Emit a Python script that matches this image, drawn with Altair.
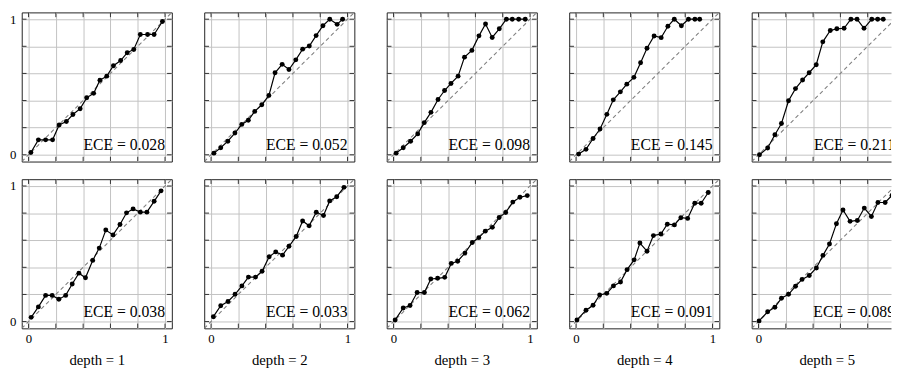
import altair as alt
import pandas as pd

FONT = "'Liberation Serif', 'DejaVu Serif', serif"
GRID = "#c2c2c2"

depths = [1, 2, 3, 4, 5]
tick_vals = [0, 0.2, 0.4, 0.6, 0.8, 1]
ece_top = ["0.028", "0.052", "0.098", "0.145", "0.211"]
ece_bottom = ["0.038", "0.033", "0.062", "0.091", "0.089"]

# top row (mean confidence, accuracy)
x_t1 = [0.017, 0.072, 0.125, 0.176, 0.224, 0.277, 0.325, 0.378, 0.426, 0.477, 0.523, 0.573, 0.622, 0.675, 0.723, 0.771, 0.819, 0.872, 0.920, 0.981]
y_t1 = [0.017, 0.110, 0.110, 0.110, 0.220, 0.245, 0.297, 0.340, 0.420, 0.453, 0.550, 0.580, 0.657, 0.695, 0.753, 0.777, 0.887, 0.887, 0.887, 0.983]
x_t2 = [0.021, 0.071, 0.123, 0.175, 0.225, 0.273, 0.320, 0.372, 0.424, 0.469, 0.521, 0.571, 0.621, 0.671, 0.720, 0.770, 0.820, 0.870, 0.924, 0.964]
y_t2 = [0.012, 0.052, 0.100, 0.160, 0.224, 0.255, 0.320, 0.369, 0.438, 0.605, 0.667, 0.629, 0.700, 0.779, 0.802, 0.879, 0.952, 1.000, 0.962, 1.000]
x_t3 = [0.019, 0.071, 0.125, 0.177, 0.225, 0.274, 0.326, 0.374, 0.421, 0.473, 0.520, 0.574, 0.626, 0.674, 0.723, 0.775, 0.827, 0.870, 0.917, 0.965]
y_t3 = [0.012, 0.052, 0.100, 0.154, 0.237, 0.313, 0.408, 0.474, 0.526, 0.580, 0.720, 0.770, 0.877, 0.964, 0.865, 0.929, 1.000, 1.000, 1.000, 1.000]
x_t4 = [0.019, 0.073, 0.125, 0.176, 0.226, 0.273, 0.325, 0.372, 0.424, 0.473, 0.520, 0.572, 0.624, 0.673, 0.720, 0.772, 0.824, 0.871, 0.906]
y_t4 = [0.005, 0.040, 0.120, 0.190, 0.298, 0.405, 0.464, 0.521, 0.571, 0.679, 0.786, 0.876, 0.864, 0.948, 1.000, 0.952, 1.000, 1.000, 1.000]
x_t5 = [0.007, 0.067, 0.120, 0.168, 0.220, 0.271, 0.323, 0.371, 0.423, 0.471, 0.526, 0.574, 0.627, 0.677, 0.722, 0.773, 0.830, 0.873, 0.914]
y_t5 = [0.000, 0.050, 0.148, 0.231, 0.398, 0.488, 0.552, 0.605, 0.664, 0.833, 0.917, 0.929, 0.933, 1.000, 1.000, 0.933, 1.000, 1.000, 1.000]

# bottom row
x_b1 = [0.019, 0.072, 0.125, 0.173, 0.222, 0.272, 0.320, 0.369, 0.417, 0.470, 0.518, 0.566, 0.619, 0.670, 0.718, 0.766, 0.819, 0.867, 0.920, 0.971]
y_b1 = [0.031, 0.108, 0.193, 0.193, 0.164, 0.193, 0.277, 0.357, 0.323, 0.451, 0.542, 0.675, 0.639, 0.716, 0.802, 0.831, 0.807, 0.807, 0.887, 0.964]
x_b2 = [0.017, 0.071, 0.124, 0.176, 0.226, 0.274, 0.326, 0.374, 0.426, 0.474, 0.524, 0.571, 0.624, 0.671, 0.719, 0.771, 0.824, 0.869, 0.921, 0.974]
y_b2 = [0.036, 0.117, 0.148, 0.201, 0.263, 0.328, 0.328, 0.371, 0.478, 0.514, 0.490, 0.555, 0.627, 0.742, 0.706, 0.806, 0.782, 0.890, 0.921, 0.990]
x_b3 = [0.012, 0.071, 0.121, 0.173, 0.226, 0.273, 0.323, 0.375, 0.423, 0.470, 0.523, 0.577, 0.625, 0.672, 0.724, 0.774, 0.822, 0.874, 0.926, 0.980]
y_b3 = [0.012, 0.100, 0.119, 0.214, 0.214, 0.314, 0.319, 0.326, 0.429, 0.445, 0.505, 0.583, 0.619, 0.667, 0.695, 0.767, 0.805, 0.881, 0.917, 0.929]
x_b4 = [0.007, 0.073, 0.125, 0.173, 0.225, 0.274, 0.326, 0.374, 0.426, 0.468, 0.520, 0.567, 0.622, 0.669, 0.721, 0.768, 0.818, 0.870, 0.917, 0.969]
y_b4 = [0.012, 0.083, 0.120, 0.196, 0.208, 0.263, 0.292, 0.383, 0.455, 0.579, 0.519, 0.634, 0.646, 0.718, 0.713, 0.766, 0.761, 0.873, 0.873, 0.952]
x_b5 = [0.004, 0.067, 0.120, 0.168, 0.220, 0.271, 0.319, 0.372, 0.424, 0.472, 0.520, 0.571, 0.619, 0.671, 0.724, 0.775, 0.827, 0.875, 0.928, 0.978]
y_b5 = [0.005, 0.072, 0.105, 0.172, 0.201, 0.260, 0.311, 0.340, 0.395, 0.488, 0.572, 0.722, 0.823, 0.739, 0.746, 0.837, 0.775, 0.878, 0.878, 0.930]

LO, HI = -0.05, 1.05
TL = 0.035          # inward tick length (data units)
PW, PH = 153, 152   # panel size
W_LAST = 142        # last column is cut off by the page edge, as in the reference

top_xy = [(x_t1, y_t1), (x_t2, y_t2), (x_t3, y_t3), (x_t4, y_t4), (x_t5, y_t5)]
bot_xy = [(x_b1, y_b1), (x_b2, y_b2), (x_b3, y_b3), (x_b4, y_b4), (x_b5, y_b5)]

diag_df = pd.DataFrame({"x": [LO, HI], "y": [LO, HI]})
trecs = []
for t in tick_vals:
    trecs += [dict(x=t, y=LO, x2=t, y2=LO + TL), dict(x=t, y=HI, x2=t, y2=HI - TL),
              dict(x=LO, y=t, x2=LO + TL, y2=t), dict(x=HI, y=t, x2=HI - TL, y2=t)]
tick_df = pd.DataFrame(trecs)

label_expr = "datum.value == 0 ? '0' : (datum.value == 1 ? '1' : '')"


def panel(row, col):
    xs_, ys_ = (top_xy if row == 0 else bot_xy)[col]
    ece = (ece_top if row == 0 else ece_bottom)[col]
    last = col == len(depths) - 1
    width = W_LAST if last else PW
    xmax = LO + width * (HI - LO) / PW
    xscale = alt.Scale(domain=[LO, xmax], nice=False, zero=False)
    yscale = alt.Scale(domain=[LO, HI], nice=False, zero=False)
    xaxis_kw = dict(
        values=[v for v in tick_vals if v <= xmax], grid=True, ticks=False, domain=False,
        labels=(row == 1), labelExpr=label_expr, labelPadding=4, labelFont=FONT,
        labelFontSize=13, labelColor="black", gridColor=GRID, gridWidth=1,
    )
    if row == 1:
        xaxis_kw.update(title="depth = %d" % depths[col], titleFont=FONT, titleFontSize=15,
                        titleFontWeight="normal", titleColor="black", titlePadding=8)
        if last:
            xaxis_kw.update(titleX=PW / 2, titleAlign="center", titleAnchor="start")
    else:
        xaxis_kw.update(title=None)
    xaxis = alt.Axis(**xaxis_kw)
    yaxis = alt.Axis(values=tick_vals, grid=True, ticks=False, domain=False, title=None,
                     labels=(col == 0), labelExpr=label_expr, labelPadding=6, labelFont=FONT,
                     labelFontSize=13, labelColor="black", gridColor=GRID, gridWidth=1)
    X = alt.X("x:Q", scale=xscale, axis=xaxis)
    Y = alt.Y("y:Q", scale=yscale, axis=yaxis)

    pts_df = pd.DataFrame({"x": xs_, "y": ys_})
    diag = alt.Chart(diag_df).mark_line(color="#808080", strokeDash=[4, 3], strokeWidth=1.1,
                                        clip=True).encode(x=X, y=Y)
    line = alt.Chart(pts_df).mark_line(color="black", strokeWidth=1.2, clip=True).encode(x=X, y=Y)
    pts = alt.Chart(pts_df).mark_circle(color="black", size=25, opacity=1, clip=True).encode(x=X, y=Y)
    ticks = alt.Chart(tick_df).mark_rule(color="#333", strokeWidth=1, clip=True).encode(
        x=X, y=Y, x2="x2:Q", y2="y2:Q")
    text = alt.Chart(pd.DataFrame({"label": ["ECE = " + ece]})).mark_text(
        align="right", baseline="alphabetic", font=FONT, fontSize=16, color="black", clip=True
    ).encode(x=alt.XDatum(1.0, scale=xscale, axis=xaxis),
             y=alt.YDatum(0.035, scale=yscale, axis=yaxis), text="label:N")
    ch = alt.layer(diag, line, pts, ticks, text).properties(width=width, height=PH)
    if last:
        # frame drawn on top, left and bottom only: the right edge lies beyond the page
        ch = ch.properties(view=alt.ViewBackground(
            strokeDash=[W_LAST, PH, W_LAST + PH + 10]))
    return ch


rows = [alt.hconcat(*[panel(r, c) for c in range(len(depths))], spacing=31) for r in (0, 1)]

chart = alt.vconcat(*rows, spacing=16).properties(
    padding={"left": 1, "top": 0, "right": 0, "bottom": 0}
).configure_view(
    stroke="#222", strokeWidth=1
)

chart.save("out.html", embed_options={"renderer": "svg", "actions": False})
